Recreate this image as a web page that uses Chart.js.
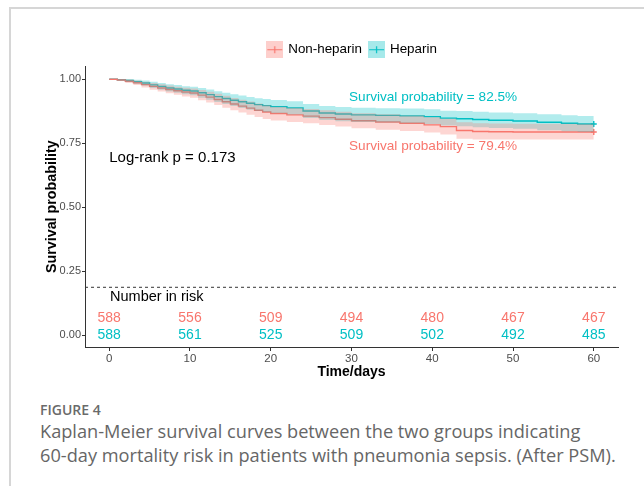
<!DOCTYPE html>
<html>
<head>
<meta charset="utf-8">
<script src="https://cdn.jsdelivr.net/npm/chart.js@4.4.1/dist/chart.umd.min.js"></script>
<style>
  body { margin: 0; background: #fff; width: 644px; height: 486px; overflow: hidden; position: relative; }
  .frame { position: absolute; left: 9px; top: 7px; right: 0; bottom: 0; border-left: 2px solid #d6d6d6; border-top: 2px solid #d6d6d6; }
  #wrap { position: absolute; left: 0; top: 0; width: 644px; height: 385px; }
  .caption { position: absolute; left: 40px; top: 400px; font-family: "Open Sans", sans-serif; color: #666; }
  .caption .fig { font-size: 14px; font-weight: 600; color: #6a6a6a; }
  .caption .txt { font-size: 18.2px; line-height: 24px; margin-top: 0px; }
</style>
</head>
<body>
<div class="frame"></div>
<div id="wrap"><canvas id="km"></canvas></div>
<div class="caption">
  <div class="fig">FIGURE 4</div>
  <div class="txt">Kaplan-Meier survival curves between the two groups indicating<br>60-day mortality risk in patients with pneumonia sepsis. (After PSM).</div>
</div>
<script>
// Kaplan-Meier curves
const days = [0,1,2,3,4,5,6,7,8,9,10,11,12,13,14,15,16,17,18,19,20,22,24,26,28,30,33,36,39,41,43,45,47,50,53,56,58,60];

const heparinSurv  = [1.000,0.998,0.995,0.990,0.985,0.978,0.972,0.966,0.962,0.957,0.954,0.947,0.940,0.932,0.925,0.918,0.912,0.906,0.901,0.897,0.893,0.888,0.876,0.868,0.864,0.861,0.859,0.857,0.854,0.848,0.846,0.843,0.840,0.837,0.832,0.828,0.825,0.825];
const heparinUpper = [1.000,1.000,1.000,0.998,0.995,0.990,0.985,0.980,0.977,0.973,0.971,0.966,0.960,0.953,0.947,0.941,0.936,0.931,0.926,0.923,0.919,0.914,0.903,0.895,0.892,0.889,0.887,0.886,0.883,0.877,0.876,0.873,0.870,0.867,0.863,0.859,0.856,0.856];
const heparinLower = [1.000,0.994,0.989,0.982,0.975,0.966,0.959,0.952,0.947,0.941,0.937,0.928,0.920,0.911,0.903,0.895,0.888,0.881,0.876,0.871,0.867,0.862,0.849,0.841,0.836,0.833,0.831,0.828,0.825,0.819,0.816,0.813,0.810,0.807,0.801,0.797,0.794,0.794];

const nonHepSurv  = [1.000,0.997,0.992,0.986,0.979,0.972,0.966,0.960,0.955,0.950,0.946,0.938,0.930,0.921,0.912,0.903,0.895,0.887,0.879,0.872,0.866,0.861,0.856,0.850,0.844,0.838,0.833,0.828,0.822,0.815,0.800,0.796,0.795,0.794,0.794,0.794,0.794,0.794];
const nonHepUpper = [1.000,1.000,0.999,0.995,0.990,0.985,0.980,0.975,0.971,0.967,0.964,0.958,0.951,0.943,0.935,0.927,0.920,0.913,0.905,0.899,0.893,0.889,0.884,0.879,0.873,0.867,0.863,0.858,0.852,0.846,0.832,0.828,0.827,0.826,0.826,0.826,0.826,0.826];
const nonHepLower = [1.000,0.993,0.985,0.977,0.968,0.959,0.952,0.945,0.939,0.933,0.928,0.918,0.909,0.899,0.889,0.879,0.870,0.861,0.853,0.845,0.839,0.833,0.828,0.821,0.815,0.809,0.803,0.798,0.792,0.784,0.768,0.765,0.765,0.765,0.765,0.765,0.765,0.765];

// Tabla de número en riesgo
const riskDays = [0,10,20,30,40,50,60];
const riskNonHep = [588,556,509,494,480,467,467];
const riskHep = [588,561,525,509,502,492,485];

const xTicks = [0,10,20,30,40,50,60];
const yTicks = [0,0.25,0.5,0.75,1];

const RED = '#F8766D';
const TEAL = '#00BFC4';
const FONT = '"Liberation Sans", Arial, sans-serif';

const pts = arr => arr.map((v, i) => ({x: days[i], y: v}));

// icono de leyenda: caja clara con una cruz
function legendIcon(color, fill) {
    const c = document.createElement('canvas');
    c.width = 17; c.height = 17;
    const g = c.getContext('2d');
    g.fillStyle = fill;
    g.fillRect(0, 0, 17, 17);
    g.strokeStyle = color;
    g.lineWidth = 1.2;
    g.beginPath();
    g.moveTo(1, 8.5); g.lineTo(16, 8.5);
    g.moveTo(8.5, 5); g.lineTo(8.5, 12);
    g.stroke();
    return c;
}

// centra la leyenda sobre el panel, como ggplot
const legendShift = {
    id: 'legendShift',
    afterLayout(chart) {
        const lg = chart.legend, ca = chart.chartArea;
        const dx = (ca.left + ca.right) / 2 + 1 - (lg.left + lg.right) / 2;
        lg.left += dx; lg.right += dx;
    }
};

const annotations = {
    id: 'annotations',
    afterDatasetsDraw(chart) {
        const {ctx, scales: {x, y}} = chart;
        ctx.save();
        // línea discontinua
        ctx.strokeStyle = '#333';
        ctx.lineWidth = 1;
        ctx.setLineDash([3, 3]);
        ctx.beginPath();
        ctx.moveTo(x.left, y.getPixelForValue(0.188));
        ctx.lineTo(x.right, y.getPixelForValue(0.188));
        ctx.stroke();
        ctx.setLineDash([]);

        ctx.textBaseline = 'middle';
        ctx.fillStyle = '#000';
        ctx.textAlign = 'left';
        ctx.font = '14.5px ' + FONT;
        ctx.fillText('Number in risk', x.getPixelForValue(0.1), y.getPixelForValue(0.152));
        ctx.font = '15px ' + FONT;
        ctx.fillText('Log-rank p = 0.173', x.getPixelForValue(0), y.getPixelForValue(0.694));

        ctx.font = '14px ' + FONT;
        ctx.textAlign = 'center';
        riskDays.forEach((d, i) => {
            ctx.fillStyle = RED;
            ctx.fillText(riskNonHep[i], x.getPixelForValue(d), y.getPixelForValue(0.066));
            ctx.fillStyle = TEAL;
            ctx.fillText(riskHep[i], x.getPixelForValue(d), y.getPixelForValue(0.0));
        });

        ctx.font = '13.6px ' + FONT;
        ctx.fillStyle = TEAL;
        ctx.fillText('Survival probability = 82.5%', x.getPixelForValue(40.1), y.getPixelForValue(0.928));
        ctx.fillStyle = RED;
        ctx.fillText('Survival probability = 79.4%', x.getPixelForValue(40.1), y.getPixelForValue(0.738));
        ctx.restore();
    }
};

new Chart(document.getElementById('km').getContext('2d'), {
    type: 'line',
    data: {
        datasets: [
            {label: 'nh-up', data: pts(nonHepUpper), stepped: true, borderWidth: 0, pointRadius: 0, fill: false},
            {label: 'nh-low', data: pts(nonHepLower), stepped: true, borderWidth: 0, pointRadius: 0,
             fill: '-1', backgroundColor: 'rgba(248,118,109,0.3)'},
            {label: 'h-up', data: pts(heparinUpper), stepped: true, borderWidth: 0, pointRadius: 0, fill: false},
            {label: 'h-low', data: pts(heparinLower), stepped: true, borderWidth: 0, pointRadius: 0,
             fill: '-1', backgroundColor: 'rgba(0,191,196,0.3)'},
            {label: 'Non-heparin', data: pts(nonHepSurv), stepped: true, borderColor: RED, borderWidth: 1.4,
             pointRadius: ctx => ctx.dataIndex === days.length - 1 ? 3 : 0, pointStyle: 'cross',
             pointBorderColor: RED, fill: false, legendIcon: legendIcon(RED, 'rgba(248,118,109,0.35)')},
            {label: 'Heparin', data: pts(heparinSurv), stepped: true, borderColor: TEAL, borderWidth: 1.4,
             pointRadius: ctx => ctx.dataIndex === days.length - 1 ? 3 : 0, pointStyle: 'cross',
             pointBorderColor: TEAL, fill: false, legendIcon: legendIcon(TEAL, 'rgba(0,191,196,0.35)')}
        ]
    },
    options: {
        responsive: true,
        maintainAspectRatio: false,
        animation: false,
        layout: {padding: {top: 35, right: 26, left: 43, bottom: 0}},
        plugins: {
            tooltip: {enabled: false},
            legend: {
                position: 'top',
                labels: {
                    usePointStyle: true,
                    color: '#000',
                    font: {family: FONT, size: 13.4},
                    padding: 8,
                    generateLabels: chart => chart.data.datasets
                        .map((ds, i) => ({ds, i}))
                        .filter(o => o.ds.legendIcon)
                        .map(o => ({text: o.ds.label, pointStyle: o.ds.legendIcon, datasetIndex: o.i,
                                    fontColor: '#000', lineWidth: 0, strokeStyle: 'transparent'}))
                }
            }
        },
        scales: {
            x: {
                type: 'linear',
                min: -3, max: 63,
                afterBuildTicks: s => { s.ticks = xTicks.map(v => ({value: v})); },
                afterFit: s => { s.height = 38; },
                grid: {drawOnChartArea: false, tickLength: 4, tickColor: '#333'},
                border: {color: '#333', width: 1},
                ticks: {color: '#4d4d4d', font: {family: FONT, size: 11.5}, padding: 1},
                title: {display: true, text: 'Time/days', color: '#000', font: {family: FONT, size: 14, weight: 'bold'}, padding: {top: 0}}
            },
            y: {
                min: -0.045, max: 1.05,
                afterBuildTicks: s => { s.ticks = yTicks.map(v => ({value: v})); },
                afterFit: s => { s.width = 42; },
                grid: {drawOnChartArea: false, tickLength: 3, tickColor: '#333'},
                border: {color: '#333', width: 1},
                ticks: {color: '#4d4d4d', font: {family: FONT, size: 11}, padding: 1,
                        callback: v => v.toFixed(2)},
                title: {display: true, text: 'Survival probability', color: '#000', font: {family: FONT, size: 14.3, weight: 'bold'}, padding: {top: 0, bottom: 0}}
            }
        }
    },
    plugins: [annotations, legendShift]
});
</script>
</body>
</html>
